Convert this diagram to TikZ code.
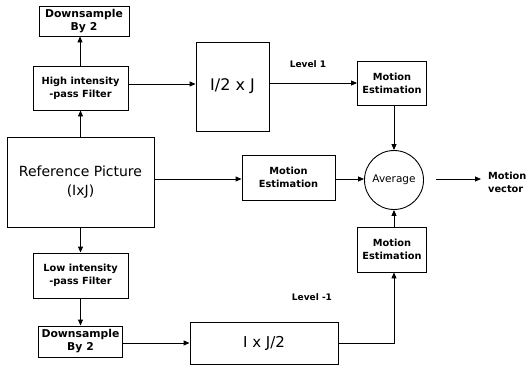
\documentclass[tikz,border=0pt]{standalone}
\usepackage{fontspec}
\setmainfont{DejaVu Sans}
\usetikzlibrary{arrows.meta}
\begin{document}
\begin{tikzpicture}[x=1pt,y=-1pt,
  box/.style={draw,line width=0.9pt,inner sep=0pt,align=center},
  small/.style={font=\bfseries\fontsize{9.8}{13}\selectfont},
  dsfont/.style={font=\bfseries\fontsize{10.8}{13}\selectfont},
  lvfont/.style={font=\bfseries\fontsize{9}{11}\selectfont},
  big/.style={font=\fontsize{14}{19}\selectfont},
  arr/.style={line width=0.9pt,-{Triangle[length=6pt,width=5pt]}}]
\useasboundingbox (0,0) rectangle (528,367);
\node[box,dsfont,minimum width=90pt,minimum height=30pt] (ds1) at (84,21) {Downsample\\By 2};
\node[box,small,minimum width=95pt,minimum height=44pt] (hi) at (80.5,88) {High intensity\\-pass Filter};
\node[box,big,minimum width=147pt,minimum height=90pt] (ref) at (80.5,182) {Reference Picture\\(IxJ)};
\node[box,small,minimum width=95pt,minimum height=45pt] (lo) at (80.5,275.5) {Low intensity\\-pass Filter};
\node[box,dsfont,minimum width=84pt,minimum height=31pt] (ds2) at (80.5,341.5) {Downsample\\By 2};
\node[box,font=\fontsize{16}{19}\selectfont,minimum width=73pt,minimum height=89pt] (half1) at (232.5,86.5) {I/2 x J};
\node[box,font=\fontsize{15}{19}\selectfont,minimum width=148pt,minimum height=42pt] (half2) at (264,343) {I x J/2};
\node[box,small,minimum width=69pt,minimum height=44pt] (me1) at (392,83) {Motion\\Estimation};
\node[box,small,minimum width=93pt,minimum height=45pt] (me2) at (288.5,177.5) {Motion\\Estimation};
\node[box,small,minimum width=69pt,minimum height=45pt] (me3) at (392,249.5) {Motion\\Estimation};
\node[draw,circle,line width=0.9pt,minimum size=59pt,inner sep=0pt,font=\fontsize{10.5}{13}\selectfont] (avg) at (394,180) {Average};
\node[small,anchor=west,inner sep=0pt,align=left] (mv) at (488,182) {Motion\\vector};
\node[lvfont] (lv1) at (308,64) {Level 1};
\node[lvfont] (lv2) at (312,297) {Level -1};
\draw[arr] (hi.north -| 80,0) -- (ds1.south -| 80,0);
\draw[arr] (ref.north) -- (hi.south);
\draw[arr] (ref.south) -- (lo.north);
\draw[arr] (lo.south) -- (ds2.north);
\draw[arr] (hi.east |- 0,84) -- (half1.west |- 0,84);
\draw[arr] (half1.east |- me1.west) -- (me1.west);
\draw[arr] (ref.east |- 0,179) -- (me2.west |- 0,179);
\draw[arr] (me2.east |- 0,179) -- (avg.west |- 0,179);
\draw[arr] (me1.south -| avg.north) -- (avg.north);
\draw[arr] (me3.north -| avg.south) -- (avg.south);
\draw[arr] (ds2.east |- 0,343) -- (half2.west |- 0,343);
\draw[arr] (half2.east) -| (me3.south -| avg.south);
\draw[arr,shorten <=12pt] (avg.east |- 0,179) -- ([xshift=-7pt]mv.west |- 0,179);
\end{tikzpicture}
\end{document}
